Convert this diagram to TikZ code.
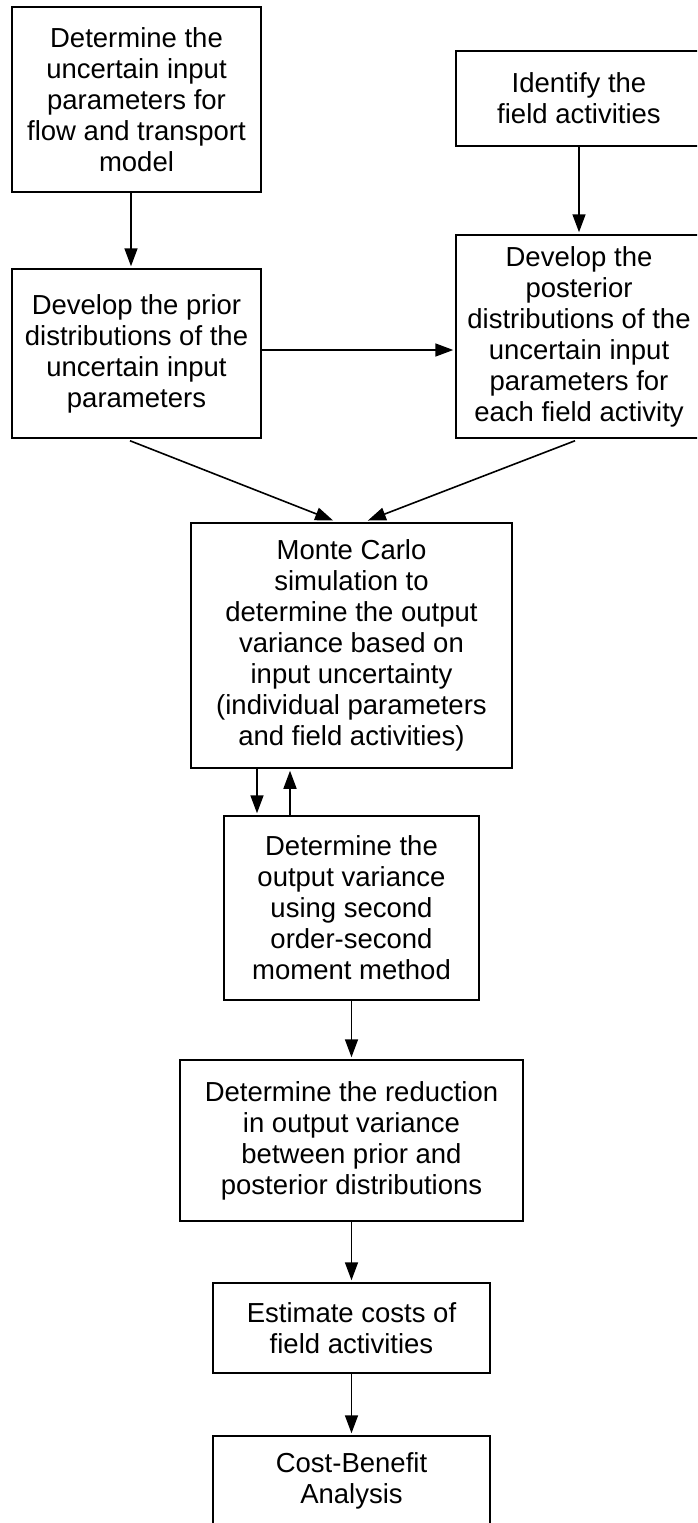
\documentclass[tikz,border=0pt]{standalone}
\usepackage{fontspec}
\setmainfont{Liberation Sans}
\usetikzlibrary{arrows.meta,calc}
\tikzset{
  box/.style={draw=black, line width=1.5pt, rectangle, align=center, inner sep=0pt,
    font=\fontsize{27.5}{31}\selectfont},
  conn/.style={draw=black, line width=1.6pt, -{Triangle[length=18pt,width=13pt]}, shorten >=2pt}
}
\begin{document}
\begin{tikzpicture}[x=1pt,y=-1pt]
\clip (0,0) rectangle (697,1523);
\fill[white] (0,0) rectangle (697,1523);
\node[box, minimum width=249pt, minimum height=185pt] (b1) at (136.5,99.5)
  {Determine the\\uncertain input\\parameters for\\flow and transport\\model};
\node[box, minimum width=246pt, minimum height=95pt] (b2) at (579,98.5)
  {Identify the\\field activities};
\node[box, minimum width=249pt, minimum height=169pt] (b3) at (136.5,353.5)
  {Develop the prior\\distributions of the\\uncertain input\\parameters};
\node[box, minimum width=246pt, minimum height=203pt] (b4) at (579,336.5)
  {Develop the\\posterior\\distributions of the\\uncertain input\\parameters for\\each field activity};
\node[box, minimum width=321pt, minimum height=245pt] (b5) at (351.5,645.5)
  {Monte Carlo\\simulation to\\determine the output\\variance based on\\input uncertainty\\(individual parameters\\and field activities)};
\node[box, minimum width=255pt, minimum height=184pt] (b6) at (351.5,908)
  {Determine the\\output variance\\using second\\order-second\\moment method};
\node[box, minimum width=343pt, minimum height=161pt] (b7) at (351.5,1140.5)
  {Determine the reduction\\in output variance\\between prior and\\posterior distributions};
\node[box, minimum width=277pt, minimum height=90pt] (b8) at (351.5,1328)
  {Estimate costs of\\field activities};
\node[box, minimum width=277pt, minimum height=90pt] (b9) at (351.5,1481)
  {Cost-Benefit\\Analysis};

\draw[conn] ($(b1.south)+(-5.5,0)$) -- ($(b3.north)+(-5.5,0)$);
\draw[conn] (b2.south) -- (b4.north);
\draw[conn] ([yshift=3.5pt]b3.east) -- ([yshift=3.5pt]b3.east -| b4.west);
\draw[conn] ($(b3.south)+(-6.5,2)$) -- ($(b5.north)+(-16.5,-1)$);
\draw[conn] ($(b4.south)+(-4,2)$) -- ($(b5.north)+(14.5,-1)$);
\draw[conn] ($(b5.south)+(-94.5,0)$) -- ($(b6.north)+(-94.5,0)$);
\draw[conn] ($(b6.north)+(-61.5,0)$) -- ($(b5.south)+(-61.5,0)$);
\draw[conn] (b6.south) -- (b7.north);
\draw[conn] (b7.south) -- (b8.north);
\draw[conn] (b8.south) -- (b9.north);
\end{tikzpicture}
\end{document}
